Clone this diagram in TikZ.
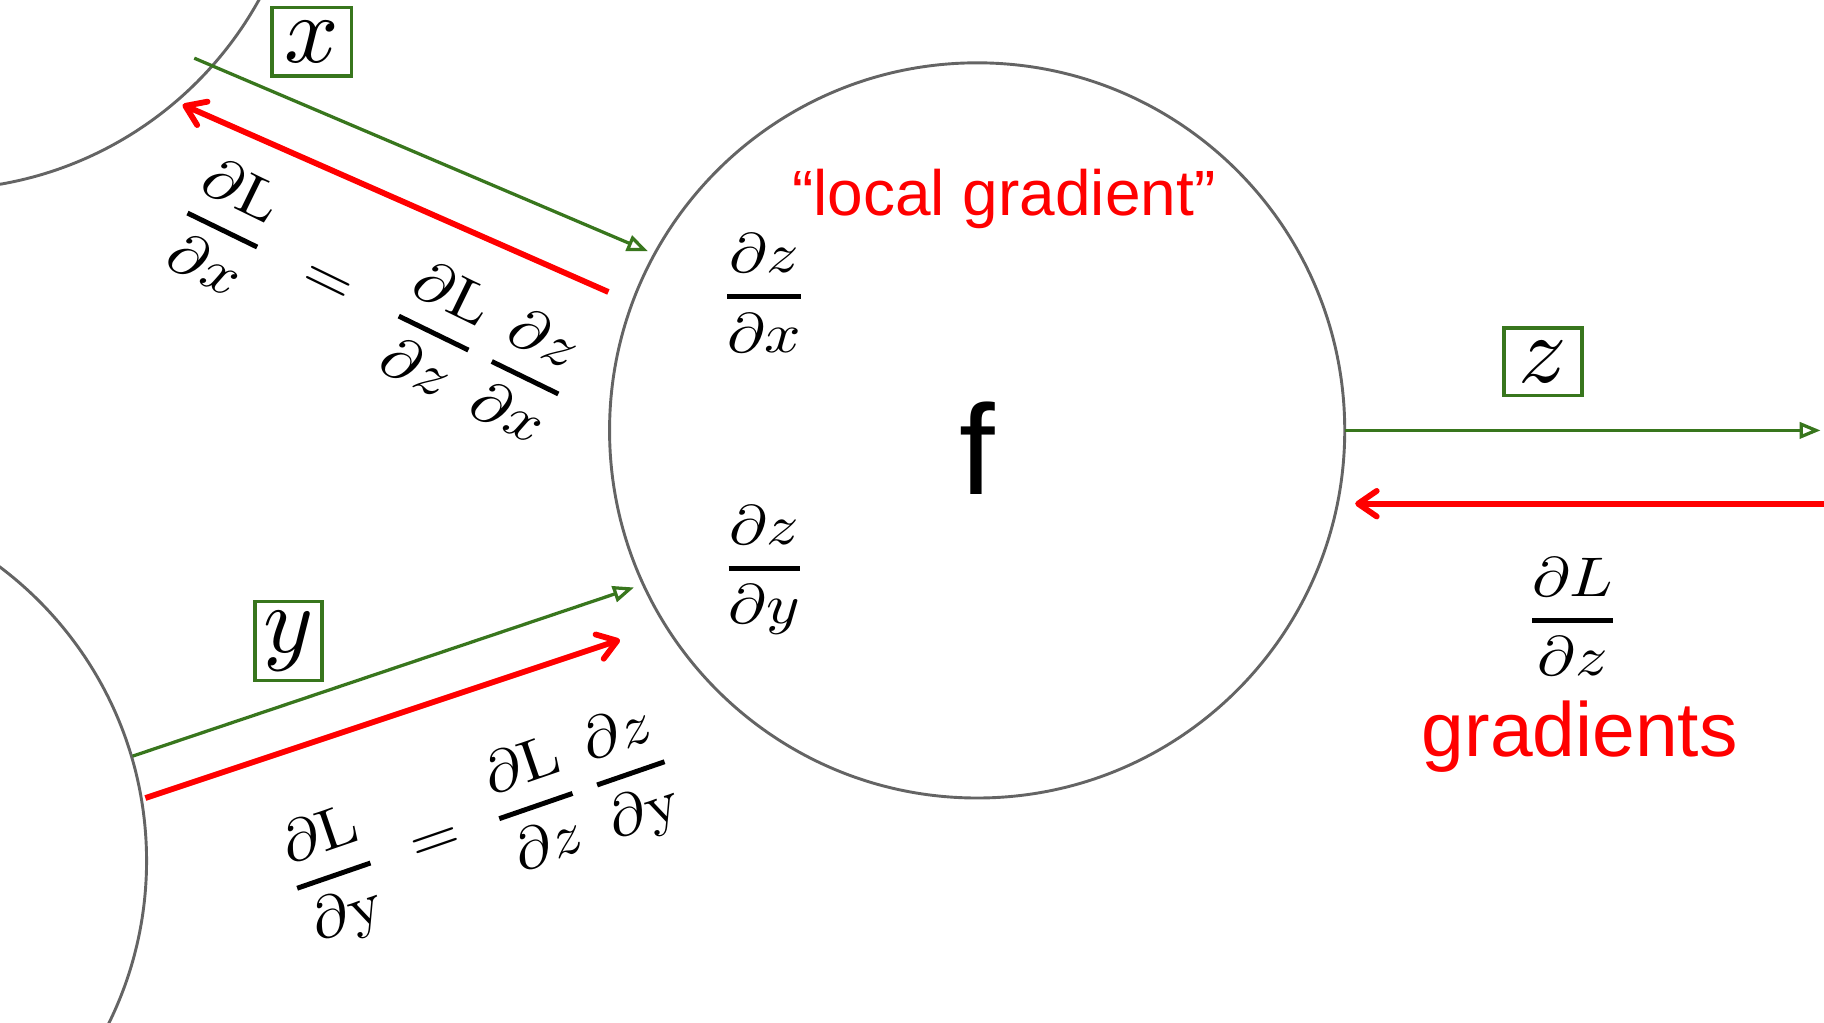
\documentclass[tikz,border=0pt]{standalone}
\usepackage{graphicx}
\usepackage{amsmath}
\usepackage{fontspec}
\newfontfamily\arial{Liberation Sans}
\usetikzlibrary{arrows.meta}
\definecolor{gr}{RGB}{56,118,29}
\definecolor{rd}{RGB}{255,0,0}
\definecolor{cg}{RGB}{100,100,100}
\newcommand{\scmath}[2]{\scalebox{#1}{$\displaystyle #2$}}
\newcommand{\scmathxy}[3]{\scalebox{#1}[#2]{$\displaystyle #3$}}
\newcommand{\pfr}[2]{\genfrac{}{}{0.85pt}{0}{#1}{#2}}
\begin{document}
\begin{tikzpicture}[x=0.5pt,y=-0.5pt,
  gate/.style={circle,draw=cg,line width=1.25pt,minimum size=316pt,inner sep=0pt},
  varbox/.style={draw=gr,line width=1.5pt,inner sep=0pt,fill=white},
  fwd/.style={draw=gr,line width=1.4pt,-{Triangle[open,length=9pt,width=7pt]}},
  bwd/.style={draw=rd,line width=2.5pt,-{Straight Barb[length=8pt,width=11pt,round]}},
  redtxt/.style={text=rd,anchor=base},
  eqn/.style={inner sep=0pt}
]
\useasboundingbox (0,0) rectangle (1568,879);
\clip (0,0) rectangle (1568,879);
\fill[white] (0,0) rectangle (1568,879);

% gates
\node[gate] (nx) at (-54,-153) {};
\node[gate] (ny) at (-190,740) {};
\node[gate] (f) at (840,370) {};
\node[font=\arial\fontsize{55}{55}\selectfont,inner sep=0pt] (flabel) at (840,385) {f};

% end points
\coordinate (gx0) at (167,50);
\coordinate (gx1) at (557,216);
\coordinate (rx0) at (523,251);
\coordinate (rx1) at (157,90);
\coordinate (gy0) at (114,650);
\coordinate (gy1) at (545,505);
\coordinate (ry0) at (125,686);
\coordinate (ry1) at (533,550);
\coordinate (gz0) at (1156,370);
\coordinate (gz1) at (1565,370);
\coordinate (rz0) at (1570,433);
\coordinate (rz1) at (1165,433);

% connectors
\draw[fwd] (gx0) -- (gx1);
\draw[bwd] (rx0) -- (rx1);
\draw[fwd] (gy0) -- (gy1);
\draw[bwd] (ry0) -- (ry1);
\draw[fwd] (gz0) -- (gz1);
\draw[bwd] (rz0) -- (rz1);

% variable boxes
\node[varbox,minimum width=34pt,minimum height=29.5pt] (xb) at (268,36) {\scmath{4.1}{x}};
\node[varbox,minimum width=29pt,minimum height=34pt] (yb) at (248,551) {\scmath{4.1}{y}};
\node[varbox,minimum width=33.5pt,minimum height=29pt] (zb) at (1326.5,311) {\scmath{4.1}{z}};

% labels
\node[redtxt,font=\arial\fontsize{27.5}{30}\selectfont] (lg) at (863,185) {“local gradient”};
\node[redtxt,font=\arial\fontsize{33}{36}\selectfont] (grads) at (1358,650) {gradients};

\node[eqn] (dzdx) at (657,252) {\scmathxy{2.75}{2.4}{\pfr{\partial z}{\partial x}}};
\node[eqn] (dzdy) at (657,490) {\scmathxy{2.75}{2.4}{\pfr{\partial z}{\partial y}}};
\node[eqn] (dLdz) at (1352,530) {\scmathxy{2.75}{2.4}{\pfr{\partial L}{\partial z}}};

\node[eqn,rotate=-26] (eqx) at (322,258)
  {\scmathxy{2.75}{2.5}{\pfr{\partial \mathrm{L}}{\partial x}\;\,=\;\,\pfr{\partial \mathrm{L}}{\partial z}\,\pfr{\partial z}{\partial x}}};
\node[eqn,rotate=19] (eqy) at (414,711)
  {\scmathxy{2.75}{2.5}{\pfr{\partial \mathrm{L}}{\partial \mathrm{y}}\;=\;\pfr{\partial \mathrm{L}}{\partial z}\,\pfr{\partial z}{\partial \mathrm{y}}}};
\end{tikzpicture}
\end{document}
